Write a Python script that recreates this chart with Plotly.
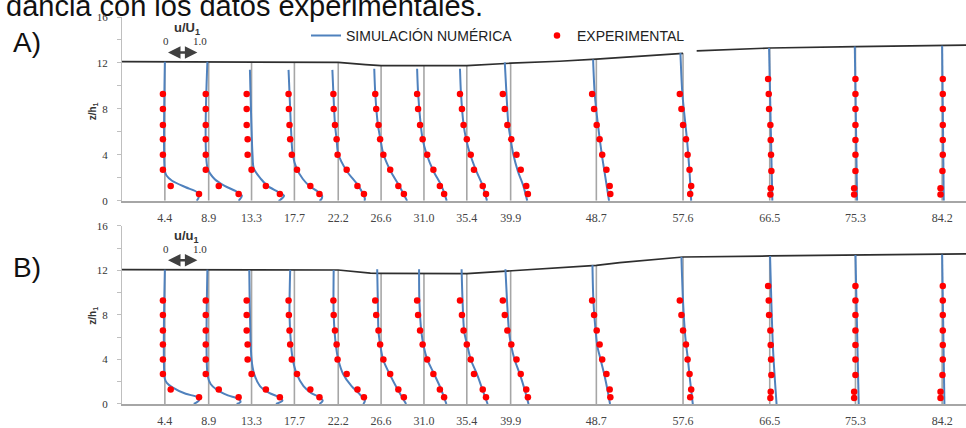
import plotly.graph_objects as go
import numpy as np

# ---------------- data ----------------
stations = [4.4, 8.9, 13.3, 17.7, 22.2, 26.6, 31.0, 35.4, 39.9, 48.7, 57.6, 66.5, 75.3, 84.2]
station_labels = ["4.4", "8.9", "13.3", "17.7", "22.2", "26.6", "31.0", "35.4", "39.9",
                  "48.7", "57.6", "66.5", "75.3", "84.2"]
z_ticks = [0, 2, 4, 6, 8, 10, 12, 14, 16]
z_tick_labels = ["0", "", "4", "", "8", "", "12", "", "16"]

# free surface (x/h1, z/h1); None = break in the drawn line
surf_a_x = [0, 22.2, 25.0, 26.6, 35.4, 39.9, 44.9, 48.7, 57.6, None, 59.0, 66.5, 75.3, 84.2, 86.65]
surf_a_z = [12.12, 12.05, 11.85, 11.76, 11.76, 11.98, 12.15, 12.33, 12.84, None, 13.05, 13.3, 13.43, 13.5, 13.55]
surf_b_x = [0, 22.2, 25.5, 26.6, 35.4, 39.9, 48.7, 51.1, 57.6, 66.5, 75.3, 84.2, 86.65]
surf_b_z = [12.06, 12.03, 11.75, 11.73, 11.7, 11.95, 12.45, 12.69, 13.2, 13.29, 13.38, 13.43, 13.47]

# experimental points (z/h1) and u/U1
exp_z_near = [9.3, 8.0, 6.6, 5.35, 4.0, 2.7, 1.3, 0.6]
exp_z_far = [10.6, 9.3, 8.0, 6.6, 5.3, 4.0, 2.6, 1.1, 0.55]
exp_u = [
    [-0.06, -0.06, -0.06, -0.06, -0.06, -0.06, 0.18, 1.05],
    [-0.09, -0.09, -0.09, -0.09, -0.09, -0.09, 0.31, 0.92],
    [-0.15, -0.15, -0.15, -0.12, -0.12, 0.0, 0.44, 0.87],
    [-0.18, -0.17, -0.15, -0.13, -0.08, 0.08, 0.49, 0.77],
    [-0.15, -0.14, -0.10, -0.05, -0.02, 0.26, 0.59, 0.79],
    [-0.18, -0.15, -0.08, -0.03, 0.07, 0.28, 0.53, 0.70],
    [-0.21, -0.18, -0.12, -0.04, 0.10, 0.29, 0.49, 0.62],
    [-0.21, -0.15, -0.10, 0.0, 0.12, 0.22, 0.49, 0.59],
    [-0.24, -0.18, -0.10, 0.02, 0.18, 0.31, 0.48, 0.53],
    [-0.13, -0.07, 0.01, 0.10, 0.18, 0.31, 0.41, 0.43],
    [-0.10, -0.05, 0.0, 0.09, 0.14, 0.20, 0.25, 0.22],
    [-0.05, -0.03, -0.02, 0.02, 0.03, 0.04, 0.05, 0.03, 0.02],
    [0.0, 0.0, 0.0, 0.0, 0.0, 0.0, 0.0, -0.04, -0.04],
    [0.02, 0.02, 0.02, 0.02, 0.02, 0.02, 0.01, -0.05, -0.05],
]

# numerical simulation, panel A
sim_a_z = [
    [12.1, 2.6, 2.2, 1.75, 1.18, 0.75, 0.32, 0.0],
    [12.1, 2.8, 1.9, 1.3, 0.8, 0.45, 0.1, 0.0],
    [11.4, 4.0, 2.8, 1.9, 1.3, 0.8, 0.45, 0.1, 0.0],
    [11.4, 8.0, 6.0, 4.0, 2.8, 1.9, 1.3, 0.8, 0.45, 0.1, 0.0],
    [11.4, 9.4, 6.66, 5.36, 4.07, 2.6, 1.3, 0.17, 0.0],
    [11.5, 9.4, 6.66, 5.36, 4.07, 2.6, 1.3, 0.0],
    [11.5, 9.4, 6.66, 5.36, 4.07, 2.6, 1.3, 0.0],
    [11.5, 9.4, 6.66, 5.36, 4.07, 2.6, 1.3, 0.0],
    [12.05, 9.4, 6.66, 5.36, 4.07, 2.6, 1.3, 0.0],
    [12.3, 9.3, 6.6, 4.0, 2.0, 0.0],
    [12.86, 9.3, 5.36, 2.5, 0.0],
    [13.3, 0.0],
    [13.43, 0.0],
    [13.5, 0.0],
]
sim_a_u = [
    [0.0, 0.0, 0.05, 0.22, 0.64, 0.99, 1.04, 0.98],
    [-0.04, -0.03, 0.18, 0.49, 0.86, 1.02, 0.95, 0.92],
    [-0.05, 0.03, 0.07, 0.29, 0.49, 0.80, 1.00, 0.89, 0.83],
    [-0.18, -0.13, -0.10, -0.05, 0.07, 0.26, 0.46, 0.72, 0.85, 0.82, 0.77],
    [-0.18, -0.15, -0.10, -0.05, 0.0, 0.26, 0.62, 0.82, 0.80],
    [-0.21, -0.18, -0.10, -0.02, 0.07, 0.29, 0.56, 0.80],
    [-0.21, -0.18, -0.10, -0.04, 0.08, 0.29, 0.54, 0.70],
    [-0.21, -0.18, -0.10, -0.02, 0.10, 0.29, 0.49, 0.62],
    [-0.18, -0.13, -0.07, 0.0, 0.08, 0.22, 0.39, 0.51],
    [-0.10, -0.05, 0.05, 0.17, 0.28, 0.39],
    [-0.08, -0.02, 0.12, 0.20, 0.25],
    [-0.02, 0.08],
    [-0.02, 0.05],
    [0.0, 0.05],
]

# numerical simulation, panel B
sim_b_z = [
    [12.06, 2.26, 1.9, 1.52, 0.92, 0.63, 0.33, 0.0],
    [12.06, 2.5, 1.8, 1.28, 0.78, 0.48, 0.18, 0.0],
    [12.04, 4.0, 2.7, 1.6, 1.0, 0.6, 0.3, 0.0],
    [12.04, 8.0, 5.2, 4.0, 2.7, 1.6, 1.0, 0.6, 0.3, 0.0],
    [12.03, 8.0, 5.2, 4.0, 2.7, 1.6, 1.0, 0.3, 0.0],
    [12.1, 9.2, 6.5, 5.2, 4.0, 2.7, 1.3, 0.0],
    [12.1, 9.2, 6.5, 5.2, 4.0, 2.7, 1.3, 0.0],
    [12.1, 9.2, 6.5, 5.2, 4.0, 2.7, 1.3, 0.0],
    [12.1, 9.2, 6.5, 5.2, 4.0, 2.7, 1.3, 0.0],
    [12.47, 9.2, 6.5, 5.2, 4.0, 2.7, 1.3, 0.0],
    [13.2, 9.2, 6.0, 4.0, 2.0, 0.0],
    [13.29, 5.0, 0.0],
    [13.38, 0.0],
    [13.43, 0.0],
]
sim_b_u = [
    [0.0, 0.0, 0.06, 0.22, 0.64, 0.99, 1.05, 0.89],
    [-0.04, -0.03, 0.06, 0.25, 0.59, 0.90, 0.98, 0.86],
    [-0.07, 0.0, 0.08, 0.26, 0.54, 0.85, 0.95, 0.75],
    [-0.13, -0.15, -0.10, -0.05, 0.07, 0.28, 0.51, 0.77, 0.87, 0.77],
    [-0.14, -0.14, -0.07, 0.0, 0.15, 0.41, 0.62, 0.82, 0.77],
    [-0.12, -0.10, -0.08, -0.02, 0.06, 0.26, 0.51, 0.77],
    [-0.15, -0.14, -0.08, -0.01, 0.10, 0.31, 0.53, 0.69],
    [-0.16, -0.13, -0.08, 0.02, 0.12, 0.31, 0.48, 0.64],
    [-0.16, -0.11, -0.05, 0.02, 0.12, 0.28, 0.43, 0.55],
    [-0.12, -0.09, -0.02, 0.03, 0.13, 0.24, 0.34, 0.42],
    [-0.05, 0.0, 0.07, 0.15, 0.22, 0.30],
    [0.01, 0.10, 0.21],
    [0.0, 0.10],
    [0.0, 0.07],
]

U_SCALE = 3.34  # x/h1 units for u/U1 = 1.0
X_MAX = 86.65

BLUE = "#4f81bd"
RED = "#ff0000"
GRAY = "#a6a6a6"

fig = go.Figure()

panels = [
    ("x", "y", surf_a_x, surf_a_z, sim_a_z, sim_a_u),
    ("x2", "y2", surf_b_x, surf_b_z, sim_b_z, sim_b_u),
]
for i, (xa, ya, sx, sz, simz, simu) in enumerate(panels):
    vx = [a for a in sx if a is not None]
    vz = [b for b in sz if b is not None]
    lx, ly = [], []
    for s in stations:
        top = float(np.interp(s, vx, vz))
        lx += [s, s, None]
        ly += [0, top, None]
    fig.add_trace(go.Scatter(x=lx, y=ly, mode="lines", line=dict(color=GRAY, width=1.6),
                             xaxis=xa, yaxis=ya, showlegend=False, hoverinfo="skip"))
    fig.add_trace(go.Scatter(x=sx, y=sz, mode="lines", line=dict(color="#2e2e2e", width=1.7),
                             connectgaps=False,
                             xaxis=xa, yaxis=ya, showlegend=False, hoverinfo="skip"))
    for k, s in enumerate(stations):
        fig.add_trace(go.Scatter(
            x=[s + u * U_SCALE for u in simu[k]], y=simz[k], mode="lines",
            line=dict(color=BLUE, width=2, shape="spline", smoothing=0.8),
            name="SIMULACIÓN NUMÉRICA", legendgroup="sim", legend="legend",
            showlegend=(i == 0 and k == 0), xaxis=xa, yaxis=ya, hoverinfo="skip"))
    ex, ey = [], []
    for k, s in enumerate(stations):
        zs = exp_z_near if len(exp_u[k]) == 8 else exp_z_far
        ex += [s + u * U_SCALE for u in exp_u[k]]
        ey += zs
    fig.add_trace(go.Scatter(x=ex, y=ey, mode="markers", marker=dict(color=RED, size=6.5),
                             name="EXPERIMENTAL", showlegend=(i == 0), legend="legend2",
                             xaxis=xa, yaxis=ya, hoverinfo="skip"))

xcommon = dict(range=[0, X_MAX], tickvals=stations, ticktext=station_labels,
               showline=True, linecolor="#a6a6a6", linewidth=2, ticks="outside", ticklen=5,
               tickcolor="rgba(0,0,0,0)",
               tickfont=dict(family="Liberation Serif", size=12, color="#444444"),
               showgrid=False, zeroline=False, fixedrange=True)
ycommon = dict(range=[0, 16], tickvals=z_ticks, ticktext=z_tick_labels,
               showline=True, linecolor="#bfbfbf", linewidth=1, ticks="outside", ticklen=4,
               tickcolor="#bfbfbf", ticklabelstandoff=7,
               tickfont=dict(family="Liberation Serif", size=11, color="#333333"),
               showgrid=False, zeroline=False, fixedrange=True)

PX0, PW = 122.0, 844.0
TOP, PH = 17.0, 390.0


def px_x(p):
    return (p - PX0) / PW


def px_y(p):
    return (TOP + PH - p) / PH


annotations = [
    dict(text="dancia con los datos experimentales.", xref="paper", yref="paper",
         x=px_x(4), y=px_y(5.5), xanchor="left", yanchor="middle", showarrow=False,
         font=dict(family="Liberation Sans", size=29, color="#111111")),
    dict(text="A)", xref="paper", yref="paper", x=px_x(11), y=px_y(43), xanchor="left",
         yanchor="middle", showarrow=False, font=dict(family="Liberation Sans", size=28, color="#111111")),
    dict(text="B)", xref="paper", yref="paper", x=px_x(11), y=px_y(269), xanchor="left",
         yanchor="middle", showarrow=False, font=dict(family="Liberation Sans", size=28, color="#111111")),
    dict(text="<b>z/h<sub>1</sub></b>", xref="paper", yref="paper", x=px_x(93), y=px_y(112),
         xanchor="center", yanchor="middle",
         textangle=-90, showarrow=False, font=dict(family="Liberation Sans", size=10, color="#333333")),
    dict(text="<b>z/h<sub>1</sub></b>", xref="paper", yref="paper", x=px_x(93), y=px_y(318),
         xanchor="center", yanchor="middle",
         textangle=-90, showarrow=False, font=dict(family="Liberation Sans", size=10, color="#333333")),
]
for xr, yr, lbl in [("x", "y", "u/U<sub>1</sub>"), ("x2", "y2", "u/u<sub>1</sub>")]:
    s0 = stations[0]
    annotations += [
        dict(text="<b>" + lbl + "</b>", xref=xr, yref=yr, x=s0 + 0.68 * U_SCALE, y=15.0,
             showarrow=False, font=dict(family="Liberation Sans", size=13, color="#333333")),
        dict(text="0", xref=xr, yref=yr, x=s0 + 0.03 * U_SCALE, y=13.9, showarrow=False,
             font=dict(family="Liberation Serif", size=11, color="#333333")),
        dict(text="1.0", xref=xr, yref=yr, x=s0 + 1.08 * U_SCALE, y=13.9, showarrow=False,
             font=dict(family="Liberation Serif", size=11, color="#333333")),
        dict(text="", xref=xr, yref=yr, axref=xr, ayref=yr, x=s0 + 1.0 * U_SCALE, y=12.9,
             ax=s0 + 0.05 * U_SCALE, ay=12.9, showarrow=True, arrowside="end+start",
             arrowhead=2, startarrowhead=2, arrowsize=1, startarrowsize=1, arrowwidth=2.5,
             arrowcolor="#404040", standoff=0, startstandoff=0),
    ]

legend_font = dict(family="Liberation Sans", size=14, color="#222222")
fig.update_layout(
    width=966, height=428,
    margin=dict(l=122, r=0, t=17, b=21),
    paper_bgcolor="white", plot_bgcolor="white",
    xaxis=dict(domain=[0, 1], anchor="y", **xcommon),
    yaxis=dict(domain=[0.525, 1], anchor="x", **ycommon),
    xaxis2=dict(domain=[0, 1], anchor="y2", **xcommon),
    yaxis2=dict(domain=[0, 0.4605], anchor="x2", **ycommon),
    legend=dict(orientation="h", x=px_x(306), xanchor="left", y=px_y(36), yanchor="middle",
                font=legend_font, bgcolor="rgba(0,0,0,0)"),
    legend2=dict(orientation="h", x=px_x(537), xanchor="left", y=px_y(36), yanchor="middle",
                 font=legend_font, bgcolor="rgba(0,0,0,0)"),
    annotations=annotations,
    hovermode=False,
    showlegend=True,
)

fig.write_html(
    "out.html",
    config={"displayModeBar": False},
    post_script="document.body.style.margin='0px';document.documentElement.style.overflow='hidden';",
)
